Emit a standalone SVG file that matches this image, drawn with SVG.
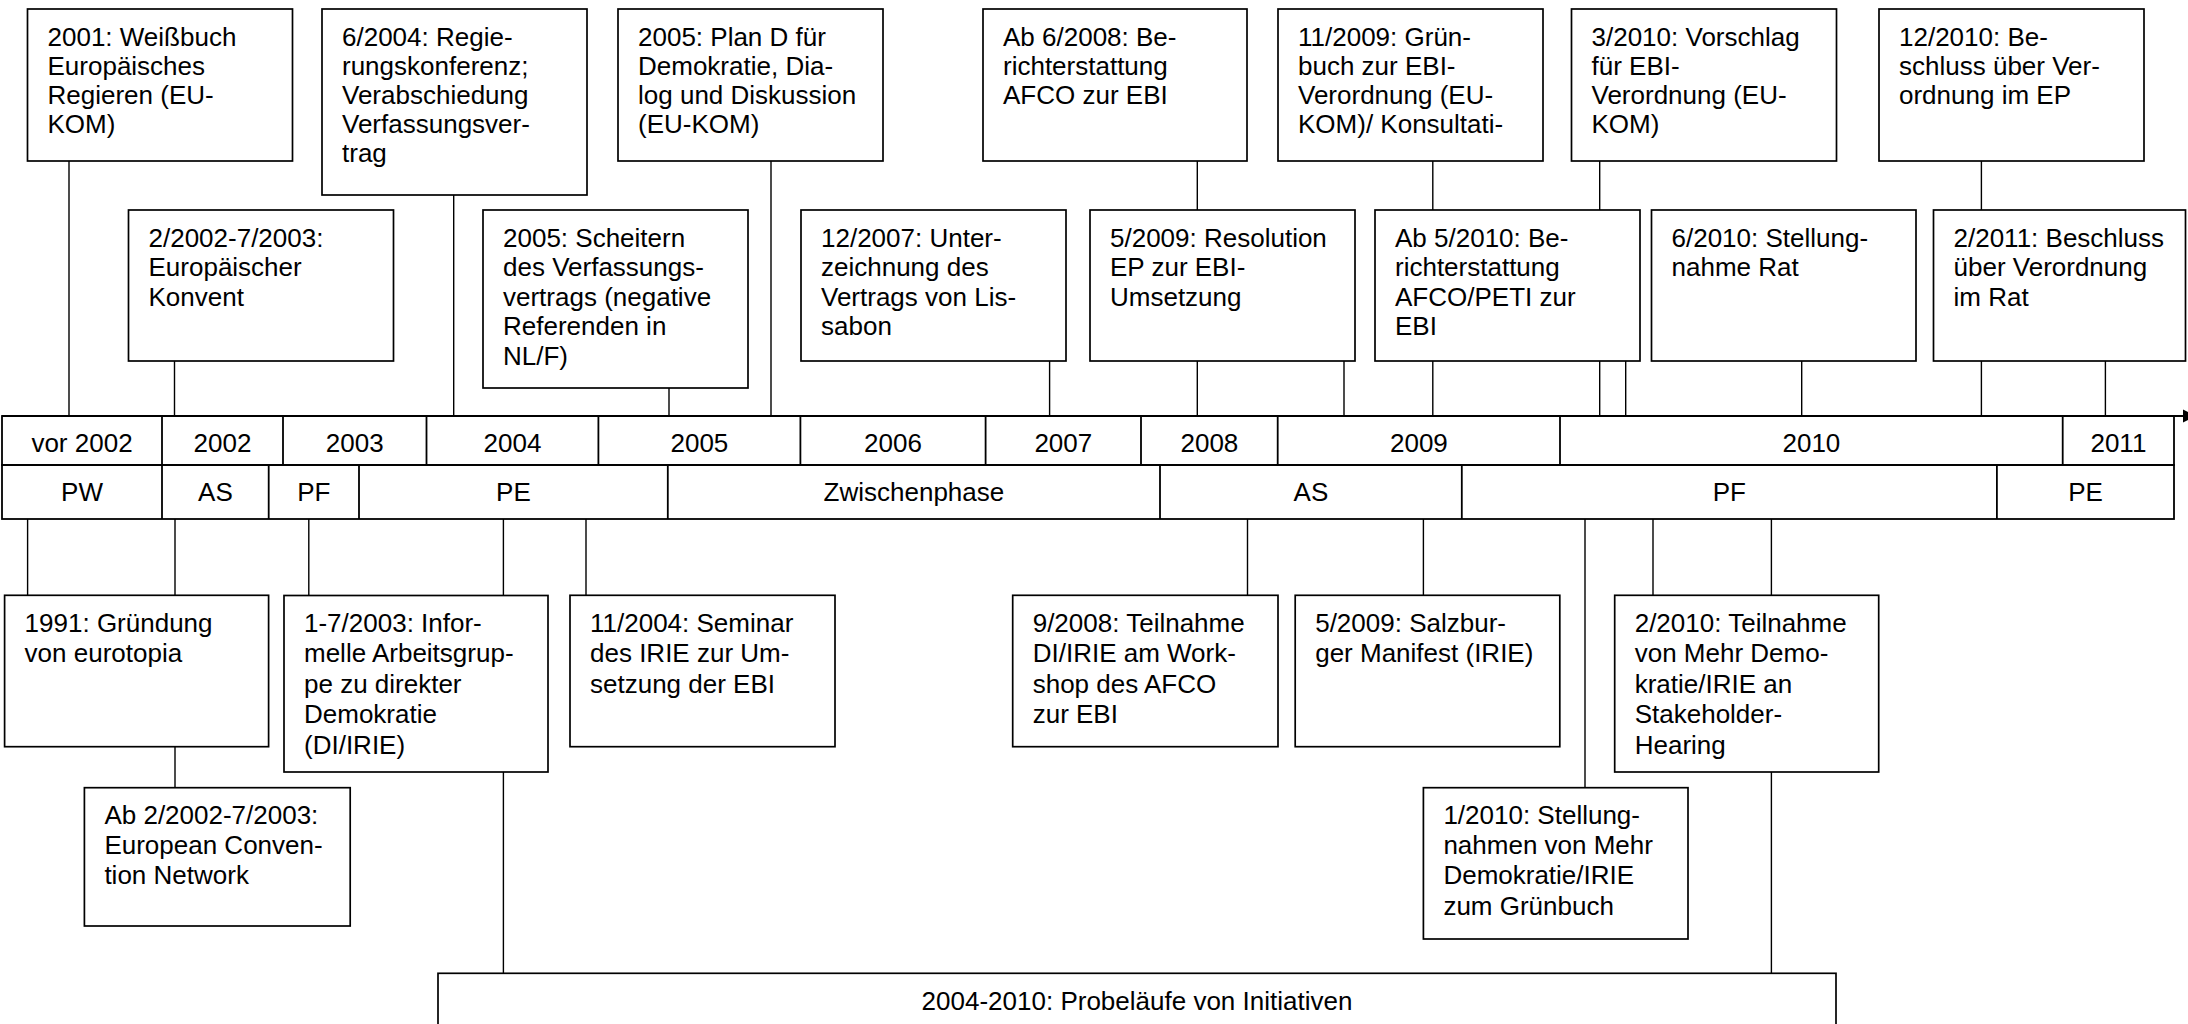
<svg xmlns="http://www.w3.org/2000/svg" width="2188" height="1024" viewBox="0 0 2188 1024">
<defs>
<style>
.box{fill:#fff;stroke:#000;stroke-width:1.7}
.ln{stroke:#000;stroke-width:1.4;fill:none}
.tl{stroke:#000;stroke-width:1.8;fill:none}
.t{font-family:"Liberation Sans",Arial,sans-serif;font-size:26px;fill:#000}
.c{text-anchor:middle}
</style>
<marker id="arr" markerUnits="userSpaceOnUse" markerWidth="14" markerHeight="14" refX="0" refY="7" orient="auto">
<path d="M0,0.5 L13,7 L0,13.5 z" fill="#000"/>
</marker>
</defs>
<rect width="2188" height="1024" fill="#fff"/>

<g id="connectors">
<path class="ln" d="M69,161V416 M453.7,195V416 M771,161V416 M1197.3,161V210 M1432.8,161V210 M1599.7,161V210 M1981.4,161V210"/>
<path class="ln" d="M174.5,361V416 M669,388V416 M1049.6,361V416 M1197.3,361V416 M1344,361V416 M1432.8,361V416 M1599.7,361V416 M1625.7,361V416 M1801.7,361V416 M1981.4,361V416 M2105.4,361V416"/>
<path class="ln" d="M27.6,519V595.3 M175,519V595.3 M308.8,519V595.3 M503.4,519V595.3 M586,519V595.3 M1247.5,519V595.3 M1423.4,519V595.3 M1585,519V787.7 M1653,519V595.3 M1771.4,519V595.3"/>
<path class="ln" d="M175,746.7V787.7 M503.4,772V973.3 M1771.4,772V977"/>
</g>

<g id="timeline">
<g id="years">
<rect class="tl" x="2" y="416" width="2172" height="49" fill="#fff"/>
<path class="tl" d="M162,416V465 M283,416V465 M426.5,416V465 M598.4,416V465 M800.4,416V465 M985.6,416V465 M1141,416V465 M1277.7,416V465 M1560,416V465 M2062.7,416V465"/>
<text class="t c" y="452"><tspan x="82">vor 2002</tspan><tspan x="222.5">2002</tspan><tspan x="354.7">2003</tspan><tspan x="512.5">2004</tspan><tspan x="699.4">2005</tspan><tspan x="893">2006</tspan><tspan x="1063.3">2007</tspan><tspan x="1209.4">2008</tspan><tspan x="1418.9">2009</tspan><tspan x="1811.4">2010</tspan><tspan x="2118.4">2011</tspan></text>
</g>
<g id="phases">
<rect class="tl" x="2" y="465" width="2172" height="54" fill="#fff"/>
<path class="tl" d="M162,465V519 M268.7,465V519 M359,465V519 M667.8,465V519 M1160,465V519 M1461.8,465V519 M1996.9,465V519"/>
<text class="t c" y="500.5"><tspan x="82">PW</tspan><tspan x="215.4">AS</tspan><tspan x="313.9">PF</tspan><tspan x="513.4">PE</tspan><tspan x="913.9">Zwischenphase</tspan><tspan x="1310.9">AS</tspan><tspan x="1729.4">PF</tspan><tspan x="2085.5">PE</tspan></text>
</g>
<path id="axis" class="tl" d="M2,416H2183" marker-end="url(#arr)"/>
</g>

<g id="n2001"><rect class="box" x="27.5" y="9" width="265" height="152"/>
<text class="t"><tspan x="47.5" y="45.7">2001: Weißbuch</tspan><tspan x="47.5" y="74.7">Europäisches</tspan><tspan x="47.5" y="103.7">Regieren (EU-</tspan><tspan x="47.5" y="132.7">KOM)</tspan></text></g>

<g id="n2004-6"><rect class="box" x="322" y="9" width="265" height="186"/>
<text class="t"><tspan x="342" y="45.7">6/2004: Regie-</tspan><tspan x="342" y="74.7">rungskonferenz;</tspan><tspan x="342" y="103.7">Verabschiedung</tspan><tspan x="342" y="132.7">Verfassungsver-</tspan><tspan x="342" y="161.7">trag</tspan></text></g>

<g id="n2005-plan"><rect class="box" x="618" y="9" width="265" height="152"/>
<text class="t"><tspan x="638" y="45.7">2005: Plan D für</tspan><tspan x="638" y="74.7">Demokratie, Dia-</tspan><tspan x="638" y="103.7">log und Diskussion</tspan><tspan x="638" y="132.7">(EU-KOM)</tspan></text></g>

<g id="n2008-6"><rect class="box" x="983" y="9" width="264" height="152"/>
<text class="t"><tspan x="1003" y="45.7">Ab 6/2008: Be-</tspan><tspan x="1003" y="74.7">richterstattung</tspan><tspan x="1003" y="103.7">AFCO zur EBI</tspan></text></g>

<g id="n2009-11"><rect class="box" x="1278" y="9" width="265" height="152"/>
<text class="t"><tspan x="1298" y="45.7">11/2009: Grün-</tspan><tspan x="1298" y="74.7">buch zur EBI-</tspan><tspan x="1298" y="103.7">Verordnung (EU-</tspan><tspan x="1298" y="132.7">KOM)/ Konsultati-</tspan></text></g>

<g id="n2010-3"><rect class="box" x="1571.5" y="9" width="265" height="152"/>
<text class="t"><tspan x="1591.5" y="45.7">3/2010: Vorschlag</tspan><tspan x="1591.5" y="74.7">für EBI-</tspan><tspan x="1591.5" y="103.7">Verordnung (EU-</tspan><tspan x="1591.5" y="132.7">KOM)</tspan></text></g>

<g id="n2010-12"><rect class="box" x="1879" y="9" width="265" height="152"/>
<text class="t"><tspan x="1899" y="45.7">12/2010: Be-</tspan><tspan x="1899" y="74.7">schluss über Ver-</tspan><tspan x="1899" y="103.7">ordnung im EP</tspan></text></g>

<g id="n2002-2"><rect class="box" x="128.5" y="210" width="265" height="151"/>
<text class="t"><tspan x="148.5" y="246.7">2/2002-7/2003:</tspan><tspan x="148.5" y="276.2">Europäischer</tspan><tspan x="148.5" y="305.7">Konvent</tspan></text></g>

<g id="n2005-scheitern"><rect class="box" x="483" y="210" width="265" height="178"/>
<text class="t"><tspan x="503" y="246.7">2005: Scheitern</tspan><tspan x="503" y="276.2">des Verfassungs-</tspan><tspan x="503" y="305.7">vertrags (negative</tspan><tspan x="503" y="335.2">Referenden in</tspan><tspan x="503" y="364.7">NL/F)</tspan></text></g>

<g id="n2007-12"><rect class="box" x="801" y="210" width="265" height="151"/>
<text class="t"><tspan x="821" y="246.7">12/2007: Unter-</tspan><tspan x="821" y="276.2">zeichnung des</tspan><tspan x="821" y="305.7">Vertrags von Lis-</tspan><tspan x="821" y="335.2">sabon</tspan></text></g>

<g id="n2009-5"><rect class="box" x="1090" y="210" width="265" height="151"/>
<text class="t"><tspan x="1110" y="246.7">5/2009: Resolution</tspan><tspan x="1110" y="276.2">EP zur EBI-</tspan><tspan x="1110" y="305.7">Umsetzung</tspan></text></g>

<g id="n2010-5"><rect class="box" x="1375" y="210" width="265" height="151"/>
<text class="t"><tspan x="1395" y="246.7">Ab 5/2010: Be-</tspan><tspan x="1395" y="276.2">richterstattung</tspan><tspan x="1395" y="305.7">AFCO/PETI zur</tspan><tspan x="1395" y="335.2">EBI</tspan></text></g>

<g id="n2010-6"><rect class="box" x="1651.5" y="210" width="264.5" height="151"/>
<text class="t"><tspan x="1671.5" y="246.7">6/2010: Stellung-</tspan><tspan x="1671.5" y="276.2">nahme Rat</tspan></text></g>

<g id="n2011-2"><rect class="box" x="1933.5" y="210" width="252" height="151"/>
<text class="t"><tspan x="1953.5" y="246.7">2/2011: Beschluss</tspan><tspan x="1953.5" y="276.2">über Verordnung</tspan><tspan x="1953.5" y="305.7">im Rat</tspan></text></g>

<g id="n1991"><rect class="box" x="4.6" y="595.3" width="264" height="151.4"/>
<text class="t"><tspan x="24.6" y="631.5">1991: Gründung</tspan><tspan x="24.6" y="662">von eurotopia</tspan></text></g>

<g id="n2003-1-7"><rect class="box" x="284" y="595.5" width="264" height="176.5"/>
<text class="t"><tspan x="304" y="631.5">1-7/2003: Infor-</tspan><tspan x="304" y="662">melle Arbeitsgrup-</tspan><tspan x="304" y="692.5">pe zu direkter</tspan><tspan x="304" y="723">Demokratie</tspan><tspan x="304" y="753.5">(DI/IRIE)</tspan></text></g>

<g id="n2004-11"><rect class="box" x="570" y="595.3" width="265" height="151.4"/>
<text class="t"><tspan x="590" y="631.5">11/2004: Seminar</tspan><tspan x="590" y="662">des IRIE zur Um-</tspan><tspan x="590" y="692.5">setzung der EBI</tspan></text></g>

<g id="n2008-9"><rect class="box" x="1012.7" y="595.3" width="265.3" height="151.4"/>
<text class="t"><tspan x="1032.7" y="631.5">9/2008: Teilnahme</tspan><tspan x="1032.7" y="662">DI/IRIE am Work-</tspan><tspan x="1032.7" y="692.5">shop des AFCO</tspan><tspan x="1032.7" y="723">zur EBI</tspan></text></g>

<g id="n2009-5-salzburg"><rect class="box" x="1295.2" y="595.3" width="264.6" height="151.4"/>
<text class="t"><tspan x="1315.2" y="631.5">5/2009: Salzbur-</tspan><tspan x="1315.2" y="662">ger Manifest (IRIE)</tspan></text></g>

<g id="n2010-2"><rect class="box" x="1614.7" y="595.3" width="264" height="176.7"/>
<text class="t"><tspan x="1634.7" y="631.5">2/2010: Teilnahme</tspan><tspan x="1634.7" y="662">von Mehr Demo-</tspan><tspan x="1634.7" y="692.5">kratie/IRIE an</tspan><tspan x="1634.7" y="723">Stakeholder-</tspan><tspan x="1634.7" y="753.5">Hearing</tspan></text></g>

<g id="n2002-ecn"><rect class="box" x="84.4" y="787.7" width="265.8" height="138.3"/>
<text class="t"><tspan x="104.4" y="823.7">Ab 2/2002-7/2003:</tspan><tspan x="104.4" y="854">European Conven-</tspan><tspan x="104.4" y="884.3">tion Network</tspan></text></g>

<g id="n2010-1"><rect class="box" x="1423.4" y="787.7" width="264.6" height="151.3"/>
<text class="t"><tspan x="1443.4" y="823.7">1/2010: Stellung-</tspan><tspan x="1443.4" y="854">nahmen von Mehr</tspan><tspan x="1443.4" y="884.3">Demokratie/IRIE</tspan><tspan x="1443.4" y="914.6">zum Grünbuch</tspan></text></g>

<g id="n2004-2010"><rect class="box" x="438" y="973.3" width="1398" height="70"/>
<text class="t c" x="1137" y="1010">2004-2010: Probeläufe von Initiativen</text></g>
</svg>
